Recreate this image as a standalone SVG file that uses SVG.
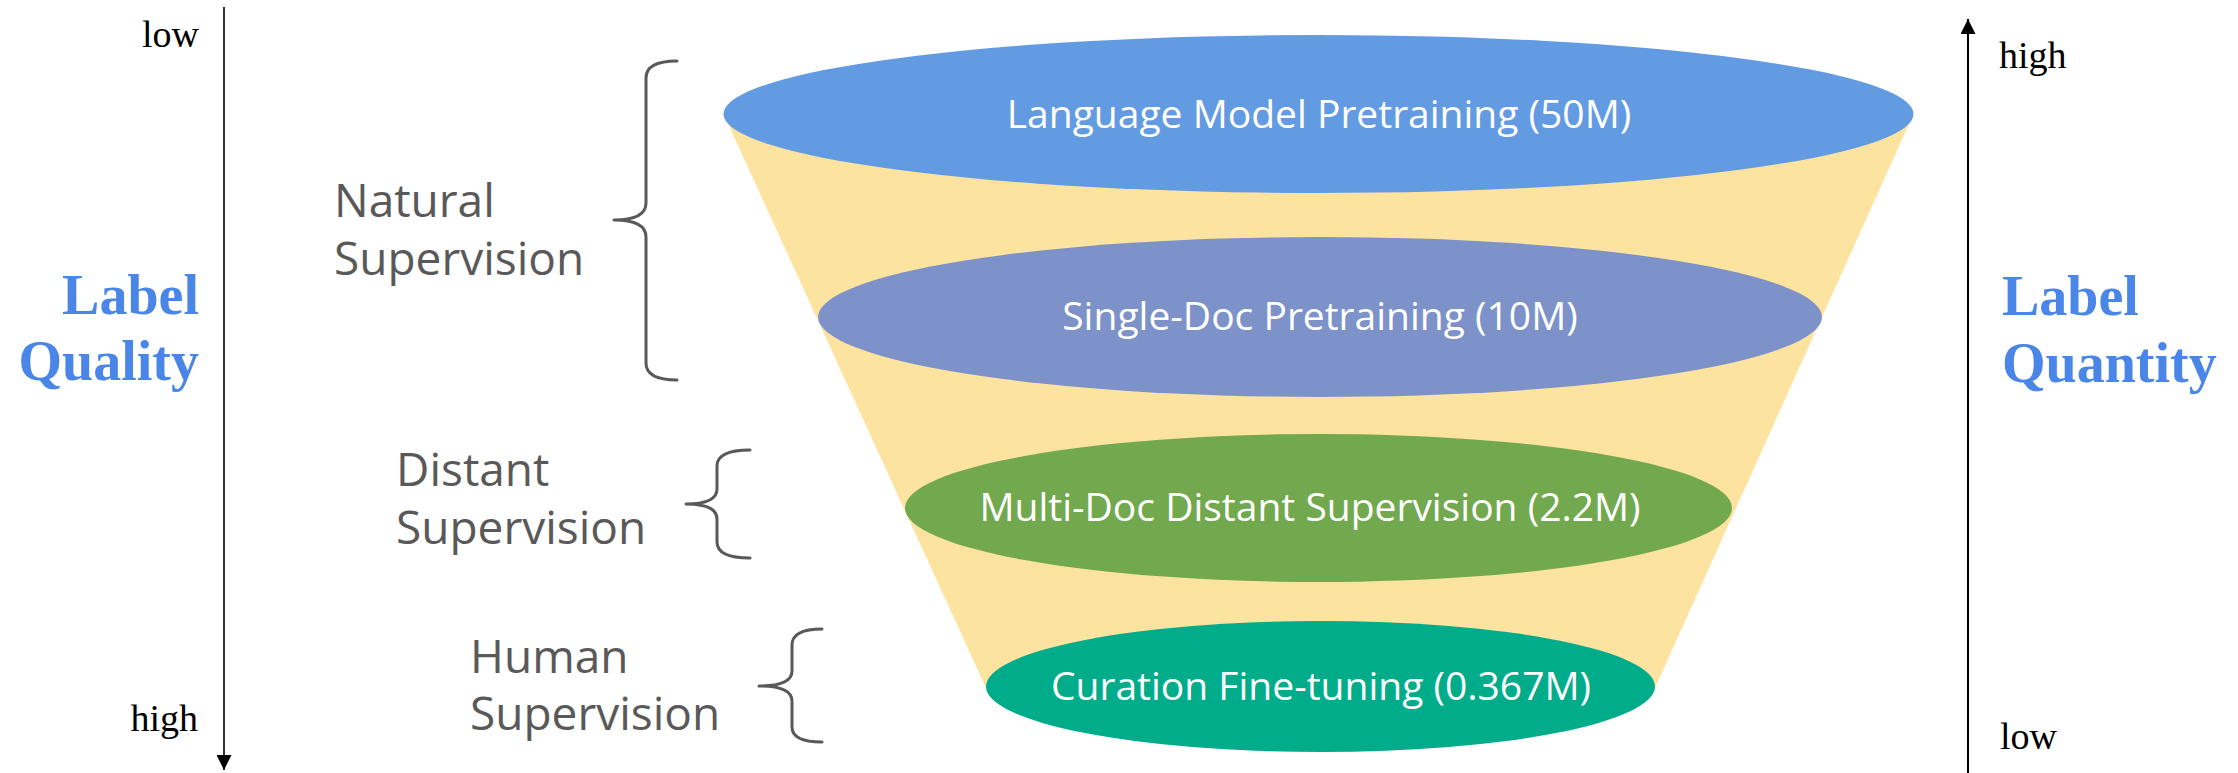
<svg xmlns="http://www.w3.org/2000/svg" width="2238" height="773" viewBox="0 0 2238 773">
<defs>
<style>
.axis{font-family:"Liberation Serif","Times New Roman",serif;font-size:38px;fill:#000}
.big{font-family:"Liberation Serif","Times New Roman",serif;font-size:56px;font-weight:bold;fill:#4a86e8}
.sup{font-family:"Open Sans","Noto Sans",sans-serif;font-size:46px;fill:#595959}
.lbl{font-family:"Open Sans","Noto Sans",sans-serif;font-size:39px;fill:#ffffff;text-anchor:middle}
.brace{fill:none;stroke:#595959;stroke-width:3;stroke-linecap:round;stroke-linejoin:round}
.ax{stroke:#000;fill:none}
</style>
<marker id="ah" viewBox="0 0 10 10" refX="10" refY="5" markerWidth="15" markerHeight="15" markerUnits="userSpaceOnUse" orient="auto">
<path d="M0,0 L10,5 L0,10 Z" fill="#000"/>
</marker>
</defs>
<rect width="2238" height="773" fill="#fff"/>

<g id="funnel">
<polygon points="724,115 1913,115 1655,688 986,688" fill="#fde3a0"/>
</g>
<g id="lm-pretraining">
<ellipse cx="1318.5" cy="114" rx="595" ry="79" fill="#639be2"/>
<text class="lbl" x="1319" y="128">Language Model Pretraining (50M)</text>
</g>
<g id="single-doc">
<ellipse cx="1320" cy="317" rx="502" ry="80" fill="#7c92c9"/>
<text class="lbl" x="1320" y="330">Single-Doc Pretraining (10M)</text>
</g>
<g id="multi-doc">
<ellipse cx="1318.5" cy="508" rx="413.5" ry="74" fill="#72a84e"/>
<text class="lbl" x="1310" y="521">Multi-Doc Distant Supervision (2.2M)</text>
</g>
<g id="curation">
<ellipse cx="1320.5" cy="686.5" rx="334.5" ry="65.5" fill="#00ac8a"/>
<text class="lbl" x="1321" y="700">Curation Fine-tuning (0.367M)</text>
</g>

<g id="natural-supervision">
<path class="brace" d="M677,61 Q646,61 646,78 L646,203 Q646,220 614,220 Q646,220 646,237 L646,363 Q646,380 677,380"/>
<text class="sup" x="334" y="217">Natural</text>
<text class="sup" x="334" y="275">Supervision</text>
</g>
<g id="distant-supervision">
<path class="brace" d="M750,450 Q717,450 717,466 L717,489 Q717,504 686,504 Q717,504 717,519 L717,542 Q717,558 750,558"/>
<text class="sup" x="396" y="486">Distant</text>
<text class="sup" x="396" y="544">Supervision</text>
</g>
<g id="human-supervision">
<path class="brace" d="M822,629 Q792,629 792,645 L792,671 Q792,686 759,686 Q792,686 792,701 L792,727 Q792,742 822,742"/>
<text class="sup" x="470" y="673">Human</text>
<text class="sup" x="470" y="730">Supervision</text>
</g>

<g id="label-quality">
<text class="axis" x="199" y="47" text-anchor="end">low</text>
<text class="axis" x="198" y="731" text-anchor="end">high</text>
<text class="big" x="199" y="314" text-anchor="end">Label</text>
<text class="big" x="199" y="380" text-anchor="end">Quality</text>
</g>
<g id="label-quantity">
<text class="axis" x="1999" y="68">high</text>
<text class="axis" x="2000" y="749">low</text>
<text class="big" x="2002" y="315">Label</text>
<text class="big" x="2002" y="382">Quantity</text>
</g>

<g id="connectors">
<line class="ax" x1="224" y1="7" x2="224" y2="770" stroke-width="1.6" marker-end="url(#ah)"/>
<line class="ax" x1="1968" y1="773" x2="1968" y2="19" stroke-width="2" marker-end="url(#ah)"/>
</g>
</svg>
